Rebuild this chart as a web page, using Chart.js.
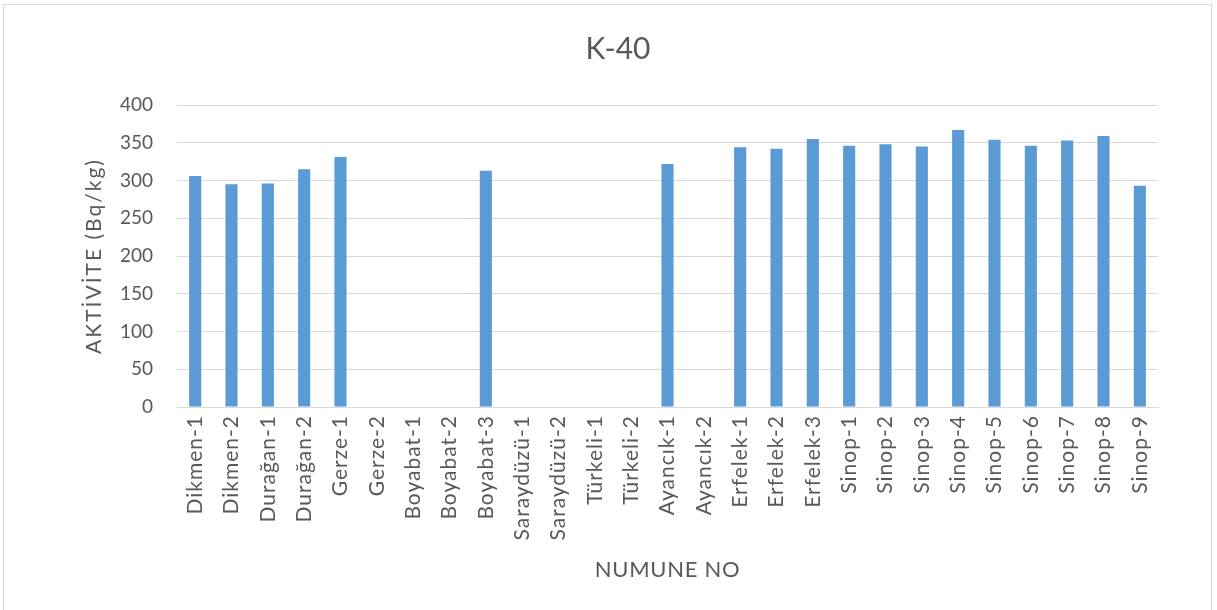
<!DOCTYPE html>
<html>
<head>
<meta charset="utf-8">
<script src="https://cdn.jsdelivr.net/npm/chart.js@4.4.1/dist/chart.umd.min.js"></script>
<style>
  html, body { margin: 0; padding: 0; background: #fff; }
  #wrap { position: relative; width: 1217px; height: 610px; }
  #frame { position: absolute; left: 3px; top: 4px; width: 1209px; height: 620px; border: 1px solid #d9d9d9; box-sizing: border-box; }
  canvas { position: absolute; left: 0; top: 0; }
</style>
</head>
<body>
<div id="wrap">
  <div id="frame"></div>
  <canvas id="k40-chart" width="1217" height="610"></canvas>
</div>
<script>
// numune isimleri
const samples = [
  'Dikmen-1', 'Dikmen-2', 'Durağan-1', 'Durağan-2', 'Gerze-1', 'Gerze-2',
  'Boyabat-1', 'Boyabat-2', 'Boyabat-3', 'Saraydüzü-1', 'Saraydüzü-2',
  'Türkeli-1', 'Türkeli-2', 'Ayancık-1', 'Ayancık-2', 'Erfelek-1', 'Erfelek-2',
  'Erfelek-3', 'Sinop-1', 'Sinop-2', 'Sinop-3', 'Sinop-4', 'Sinop-5', 'Sinop-6',
  'Sinop-7', 'Sinop-8', 'Sinop-9'
];
// K-40 aktivite (Bq/kg), boş olanlar ölçülmemiş
const activity = [
  306, 295, 296, 315, 331, null,
  null, null, 313, null, null,
  null, null, 322, null, 344, 342,
  355, 346, 348, 345, 367, 354, 346,
  353, 359, 293
];
const yTicks = [0, 50, 100, 150, 200, 250, 300, 350, 400];

const textColor = '#595959';
const gridColor = '#d9d9d9';
const fontFamily = 'Lato, "Open Sans", sans-serif';

// Excel yazısı biraz aralıklı, harf aralığını elle açıyoruz
function spaced(scale, method, spacing) {
  if (scale['_sp_' + method]) return;
  const orig = scale[method];
  scale[method] = function (...args) {
    const c = this.ctx;
    c.save();
    c.letterSpacing = spacing;
    orig.apply(this, args);
    c.restore();
  };
  scale['_sp_' + method] = true;
}

const spacedText = {
  id: 'spacedText',
  afterUpdate(chart) {
    spaced(chart.scales.x, 'drawLabels', '1px');
    spaced(chart.scales.x, 'drawTitle', '0.7px');
    spaced(chart.scales.y, 'drawTitle', '2px');
  }
};

const ctx = document.getElementById('k40-chart').getContext('2d');
const chart = new Chart(ctx, {
  type: 'bar',
  data: {
    labels: samples,
    datasets: [{
      label: 'K-40',
      data: activity,
      backgroundColor: '#5b9bd5',
      categoryPercentage: 1,
      barPercentage: 0.333
    }]
  },
  plugins: [spacedText],
  options: {
    responsive: false,
    animation: false,
    layout: { padding: { left: 78, right: 59, top: 0, bottom: 23 } },
    plugins: {
      legend: { display: false },
      tooltip: { enabled: false },
      title: {
        display: true,
        text: 'K-40',
        color: textColor,
        font: { family: fontFamily, size: 30, weight: 'normal' },
        padding: { top: 31, bottom: 38 }
      }
    },
    scales: {
      x: {
        grid: { display: false, drawTicks: false },
        border: { color: gridColor, width: 1 },
        ticks: {
          color: textColor,
          font: { family: fontFamily, size: 21 },
          minRotation: 90,
          maxRotation: 90,
          autoSkip: false,
          padding: 8
        },
        title: {
          display: true,
          text: 'NUMUNE NO',
          color: textColor,
          font: { family: fontFamily, size: 22 }
        },
        afterFit: scale => { scale.height = 180; }
      },
      y: {
        min: 0,
        max: 400,
        afterBuildTicks: scale => { scale.ticks = yTicks.map(v => ({ value: v })); },
        grid: { color: gridColor, lineWidth: 1, drawTicks: false },
        border: { display: false },
        ticks: {
          color: textColor,
          font: { family: fontFamily, size: 19 },
          padding: 24
        },
        title: {
          display: true,
          text: 'AKTİVİTE (Bq/kg)',
          color: textColor,
          font: { family: fontFamily, size: 21 }
        },
        afterFit: scale => { scale.width = 99; }
      }
    }
  }
});
</script>
</body>
</html>
